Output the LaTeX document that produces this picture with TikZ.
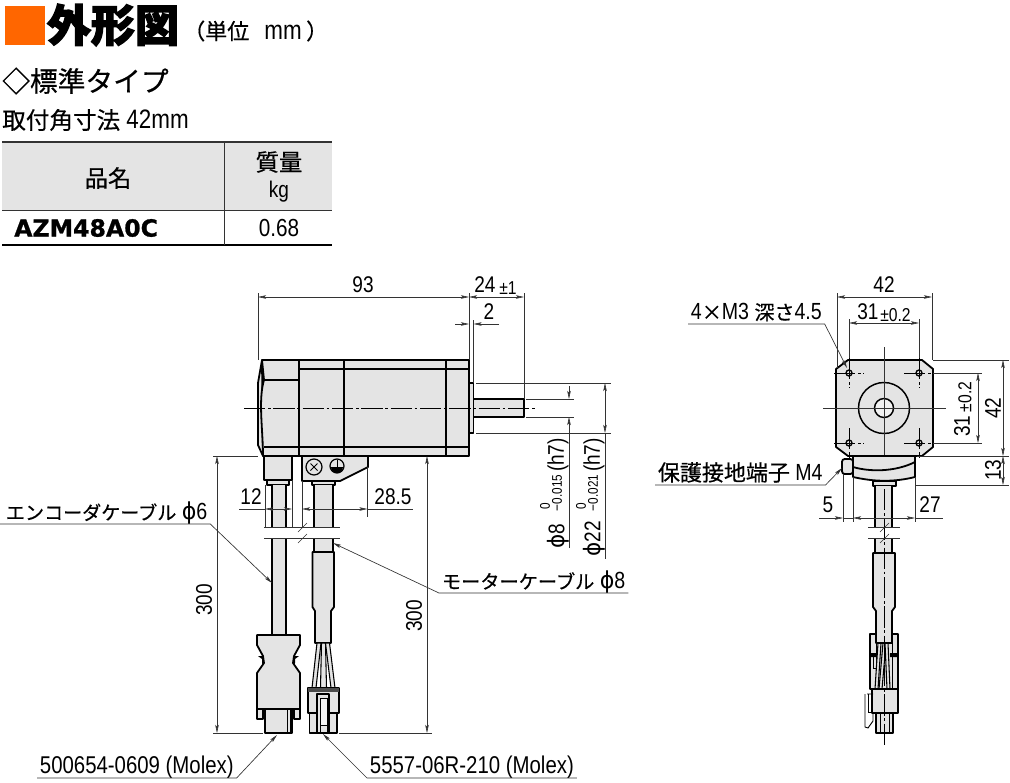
\documentclass[tikz,border=0pt]{standalone}
\usepackage{fontspec}
\usepackage{xcolor}
\usetikzlibrary{arrows.meta}
\setmainfont[FakeStretch=0.84]{Liberation Sans}
\newfontfamily\jp[FakeBold=0.5]{Noto Sans CJK JP}
\newfontfamily\jpblack[BoldFeatures={FakeBold=3}]{Noto Sans CJK JP}
\newfontfamily\phifont[FakeStretch=0.95]{DejaVu Sans}
\newfontfamily\heavy[BoldFeatures={FakeBold=1}]{DejaVu Sans}
\newcommand{\dia}{{\phifont ϕ}}
\definecolor{motorgray}{HTML}{E4E4E4}
\definecolor{titleorange}{HTML}{FF6600}
\definecolor{linegray}{HTML}{333333}
\tikzset{
  part/.style={draw=black, fill=motorgray, line width=1.35pt, line join=round},
  edge/.style={draw=black, line width=1.35pt},
  thinedge/.style={draw=black, line width=0.7pt},
  wire/.style={draw=black, fill=motorgray, line width=0.8pt},
  dim/.style={draw=linegray, line width=0.45pt, {Stealth[length=6pt,width=2.6pt,inset=1.2pt]}-{Stealth[length=6pt,width=2.6pt,inset=1.2pt]}},
  dimto/.style={draw=linegray, line width=0.45pt, -{Stealth[length=6pt,width=2.6pt,inset=1.2pt]}},
  ext/.style={draw=linegray, line width=0.45pt},
  axis/.style={draw=black, line width=0.45pt, dash pattern=on 16pt off 2pt on 2pt off 2pt},
  num/.style={font=\fontsize{17}{18}\selectfont, inner sep=0pt},
  small/.style={font=\fontsize{10.5}{12}\selectfont, inner sep=0pt},
  tol/.style={font=\fontsize{14}{15}\selectfont, inner sep=0pt},
  leadtxt/.style={font=\fontsize{17.5}{18}\selectfont, inner xsep=2pt, inner ysep=3pt, text depth=0pt},
  leadline/.style={draw=linegray, line width=0.5pt, -{Stealth[length=6pt,width=2.6pt,inset=1.2pt]}},
}
\begin{document}
\begin{tikzpicture}[x=0.75pt, y=-0.75pt]
    \useasboundingbox (0,0) rectangle (1010,782);

    % heading and table
    \fill[titleorange] (5,6) rectangle (45,45);
    \node[inner sep=0pt, font=\fontsize{33}{36}\selectfont\jpblack\bfseries] (title) at (113,25) {外形図};
    \node[inner sep=0pt, font=\fontsize{20}{22}\selectfont, anchor=west] (unit) at (183,31) {{\fontsize{16.5}{18}\jp （単位}\,\, mm\,{\fontsize{16.5}{18}\jp ）}};
    \node[inner sep=0pt, font=\fontsize{20.8}{22}\selectfont\jp, anchor=west] (kind) at (2,81) {◇標準タイプ};
    \node[inner sep=0pt, font=\fontsize{20}{20}\selectfont, anchor=west] (size) at (2,120) {{\fontsize{17.7}{20}\jp 取付角寸法} 42mm};

    \fill[motorgray] (2,142) rectangle (332,210);
    \draw[linegray, line width=1.2pt] (2,142) -- (332,142);
    \draw[linegray, line width=1pt] (2,210.5) -- (332,210.5);
    \draw[black, line width=1.2pt] (2,245) -- (332,245);
    \draw[linegray, line width=0.6pt] (224,142) -- (224,245);
    \node[inner sep=0pt, font=\fontsize{17.5}{20}\selectfont\jp] (hname) at (108,178) {品名};
    \node[inner sep=0pt, font=\fontsize{17.5}{20}\selectfont\jp] (hmass) at (279,162) {質量};
    \node[num] (hkg) at (279,192) {kg};
    \node[inner sep=0pt, font=\fontsize{17.7}{20}\selectfont\heavy\bfseries, anchor=west] (model) at (14,228) {AZM48A0C};
    \node[inner sep=0pt, font=\fontsize{18.5}{20}\selectfont] (mass) at (279,228) {0.68};

    % side view
    \draw[part] (262,360) -- (258,383) -- (258,445) -- (263,456) -- (262,360);
    \draw[part] (262,360) -- (469,360) -- (469,456) -- (263,456) .. controls (263,430) and (258,400) .. (264,380) -- cycle;
    \draw[edge] (264,380) -- (299,380);
    \draw[edge] (299,360) -- (299,456);
    \draw[edge] (344,360) -- (344,456);
    \draw[edge] (446,360) -- (446,456);
    \draw[edge] (299,369) -- (469,369);
    \draw[edge] (264,447) -- (469,447);
    \draw[part] (469,383) rectangle (473.5,433);
    \draw[part] (473.5,399) rectangle (524,417);
    \draw[axis] (244,408) -- (537,408);

    \draw[part] (264,456) rectangle (292,480);
    \draw[part] (267,480) rectangle (289,485);
    \fill[motorgray] (272,485) rectangle (286,527) (272,538) rectangle (286,635);
    \draw[edge] (272,485) -- (272,527) (286,485) -- (286,527) (272,538) -- (272,635) (286,538) -- (286,635);

    \draw[part] (302,456) -- (368,456) -- (368,467) -- (340,481) -- (302,481) -- cycle;
    \draw[thinedge, line width=0.9pt] (314,467) circle (8);
    \draw[thinedge] (310.5,463.5) -- (317.5,470.5) (317.5,463.5) -- (310.5,470.5);
    \draw[thinedge, line width=0.9pt] (337,466) circle (7);
    \draw[thinedge] (337,460) -- (337,467);
    \fill (331,467) .. controls (331,475) and (343,475) .. (343,467) -- cycle;
    \draw[part] (312,481) rectangle (335,485);
    \fill[motorgray] (314,485) rectangle (333,527) (314,538) rectangle (333,552);
    \draw[edge] (314,485) -- (314,527) (333,485) -- (333,527) (314,538) -- (314,552) (333,538) -- (333,552);
    \draw[part] (312.5,552) -- (334,552) -- (334,607) -- (331,611) -- (331,643) -- (315,643) -- (315,611) -- (312.5,607) -- cycle;

    % breaks in the cables
    \draw[ext] (264,527) -- (340,527) (264,538) -- (340,538);
    \draw[ext] (298,532) -- (307,523) (298,543) -- (307,534);

    % encoder plug
    \draw[part] (257,635) -- (300,635) -- (300,645) -- (294,656) -- (293,663) -- (300,673) -- (300,709) -- (257,709) -- (257,673) -- (264,663) -- (263,656) -- (257,645) -- cycle;
    \fill (258,656) -- (264,656) -- (263,665) -- (262,663) -- (262,659) -- cycle;
    \fill (299,656) -- (293,656) -- (294,665) -- (295,663) -- (295,659) -- cycle;
    \draw[part] (257,709) rectangle (263,719);
    \draw[part] (294,709) rectangle (300,719);
    \draw[part] (265,709) rectangle (292,733);
    \draw[thinedge] (287,709) -- (287,733) (290,709) -- (290,733);

    % motor plug
    \draw[wire] (317,643) -- (312,688) -- (316,688) -- (321,643) -- cycle;
    \draw[wire] (321.5,643) -- (320.5,688) -- (326.5,688) -- (325.5,643) -- cycle;
    \draw[wire] (325.5,643) -- (331,688) -- (335,688) -- (329.5,643) -- cycle;
    \draw[part] (308,688) rectangle (339,713);
    \fill[black!70] (308,688) rectangle (339,692);
    \draw[part] (309.5,713) rectangle (337,733);
    \draw[part] (317,694) rectangle (329,733);
    \draw[thinedge, fill=white!60!motorgray] (320,698) rectangle (327,725);
    \draw[thinedge] (320,725) rectangle (327,733);

    % side view dimensions
    \draw[ext] (258,293) -- (258,360);
    \draw[ext] (469,293) -- (469,360);
    \draw[ext] (524,293) -- (524,399);
    \draw[dim] (258,297) -- (469,297);
    \draw[dim] (469,297) -- (524,297);
    \node[num] (d93) at (363,285) {93};
    \node[num, anchor=west] (d24) at (474,285) {24};
    \node[tol, anchor=west] (d24t) at (499,288) {±1};
    \draw[ext] (473.5,320) -- (473.5,383);
    \draw[dimto] (455,324) -- (469,324);
    \draw[dimto] (499,324) -- (473.5,324);
    \node[num] (d2) at (489,312) {2};

    \draw[ext] (476,383) -- (611,383);
    \draw[ext] (476,433) -- (611,433);
    \draw[ext] (526,399) -- (574,399);
    \draw[ext] (526,417) -- (574,417);
    \draw[dimto] (569,386) -- (569,399);
    \draw[dimto] (569,548) -- (569,417);
    \draw[dim] (605,383) -- (605,433);
    \draw[ext] (605,433) -- (605,559);
    \node[num, rotate=90] (phi8) at (558,536) {\dia8};
    \node[small, rotate=90] (t8) at (557,493) {−0.015};
    \node[small, rotate=90] (t8u) at (545,506) {0};
    \node[num, rotate=90] (h8) at (558,455) {(h7)};
    \node[num, rotate=90] (phi22) at (594,539) {\dia22};
    \node[small, rotate=90] (t22) at (593,493) {−0.021};
    \node[small, rotate=90] (t22u) at (581,506) {0};
    \node[num, rotate=90] (h22) at (594,455) {(h7)};

    \draw[ext] (213,456) -- (258,456);
    \draw[ext] (213,733) -- (263,733);
    \draw[dim] (217,456) -- (217,733);
    \node[num, rotate=90] (d300a) at (204,600) {300};
    \draw[ext] (339,733) -- (432,733);
    \draw[dim] (427,456) -- (427,733);
    \node[num, rotate=90] (d300b) at (414,616) {300};

    \draw[ext] (265,485) -- (265,527);
    \draw[ext] (292,480) -- (292,527);
    \draw[ext] (239,509) -- (265,509);
    \draw[dim] (265,509) -- (292,509);
    \node[num] (d12) at (251,497) {12};
    \draw[ext] (302,481) -- (302,527);
    \draw[ext] (367.5,467) -- (367.5,517);
    \draw[dim] (302,509) -- (367.5,509);
    \draw[ext] (367.5,509) -- (413,509);
    \node[num] (d285) at (393,497) {28.5};

    % cable and connector labels
    \coordinate (encoder) at (272,583);
    \coordinate (motor) at (333,543);
    \coordinate (plugA) at (277,735);
    \coordinate (plugB) at (323,734);
    \coordinate (screw) at (847,368);
    \coordinate (ground) at (842,468);
    \node[leadtxt, anchor=south west] (encname) at (3,524) {{\fontsize{14.3}{18}\jp エンコーダケーブル} \dia6};
    \draw[leadline] (0,524) -- (encname.south east) -- (encoder);
    \node[leadtxt, anchor=south west] (motname) at (439,593) {{\fontsize{14.4}{18}\jp モーターケーブル} \dia8};
    \draw[leadline] (motname.south east) -- (motname.south west) -- (motor);
    \node[leadtxt, font=\fontsize{18.2}{18}\selectfont, anchor=south west] (plugAname) at (37,778) {500654-0609 (Molex)};
    \draw[leadline] (plugAname.south west) -- (plugAname.south east) -- (plugA);
    \node[leadtxt, font=\fontsize{18.2}{18}\selectfont, anchor=south west] (plugBname) at (367,778) {5557-06R-210 (Molex)};
    \draw[leadline] (plugBname.south east) -- (plugBname.south west) -- (plugB);

    % front view
    \draw[part] (848,360) -- (922,360) -- (933,369) -- (933,447) -- (922,456) -- (848,456) -- (836,447) -- (836,369) -- cycle;
    \draw[thinedge, line width=1.1pt] (884,408) circle (25.5);
    \draw[thinedge, line width=1.1pt, fill=white!50!motorgray] (884,408) circle (9.5);
    \foreach \hx/\hy in {849/373, 919/373, 849/443, 919/443} {
        \draw[thinedge, line width=1pt] (\hx,\hy) circle (3);
    }
    \draw[ext] (884,347) -- (884,489);
    \draw[ext] (823,408) -- (946,408);
    \draw[axis] (834,373) -- (864,373);
    \draw[axis] (904,373) -- (933,373);
    \draw[axis] (834,443) -- (864,443);
    \draw[axis] (904,443) -- (933,443);
    \draw[axis] (849,358) -- (849,388);
    \draw[axis] (919,358) -- (919,388);
    \draw[axis] (849,428) -- (849,458);
    \draw[axis] (919,428) -- (919,458);

    \draw[part, rounded corners=2pt] (842,459) rectangle (853,474);
    \draw[part] (853,456) -- (915,456) -- (915,477) .. controls (895,482) and (875,482) .. (853,477) -- cycle;
    \draw[edge] (853,467) .. controls (870,472) and (895,472) .. (915,462);
    \draw[part] (873,481) rectangle (896,486);
    \fill[motorgray] (875,486) rectangle (892,527) (875,538) rectangle (892,553);
    \draw[edge] (875,486) -- (875,527) (892,486) -- (892,527) (875,538) -- (875,553) (892,538) -- (892,553);

    \draw[part] (870,634) rectangle (898,689);
    \draw[thinedge] (876,643) -- (876,689) (892,643) -- (892,689);
    \fill (870,653) rectangle (878,657) (890,653) rectangle (898,657);
    \draw[thinedge] (873,655) rectangle (876,668);
    \draw[wire] (878,643) -- (875,689) -- (878,689) -- (881,643) -- cycle;
    \draw[wire] (883,643) -- (879,689) -- (882,689) -- (886,643) -- cycle;
    \draw[wire] (885,643) -- (887,689) -- (890,689) -- (888,643) -- cycle;
    \draw[part] (873,553) -- (895,553) -- (895,607) -- (892,611) -- (892,643) -- (876,643) -- (876,611) -- (873,607) -- cycle;
    \draw[part] (872,689) rectangle (898,713);
    \draw[thinedge] (867,694) -- (873,694) (865,694) -- (865,727) -- (868,728) -- (873,721) -- (873,712);
    \draw[thinedge] (868,694) -- (868,712) -- (873,712);
    \draw[part] (876,713) rectangle (893,733);
    \draw[thinedge] (880,713) -- (880,733) (889,713) -- (889,733);
    \draw[axis] (884,489) -- (884,747);

    \draw[ext] (868,527) -- (900,527) (868,538) -- (900,538);
    \draw[ext] (880,532) -- (889,523) (880,543) -- (889,534);

    % front view dimensions
    \draw[ext] (837,293) -- (837,368);
    \draw[ext] (932,293) -- (932,360);
    \draw[dim] (837,297) -- (932,297);
    \node[num] (w42) at (884,285) {42};
    \draw[ext] (849,319) -- (849,358);
    \draw[ext] (919,319) -- (919,358);
    \draw[dim] (849,323) -- (919,323);
    \node[num, anchor=west] (w31) at (857,312) {31};
    \node[tol, anchor=west] (w31t) at (880,315) {±0.2};
    \node[leadtxt, anchor=south west] (holes) at (688,324) {4{\fontsize{15}{18}\jp ×}M3 {\fontsize{15}{18}\jp 深さ}4.5};
    \draw[leadline] (holes.south west) -- (holes.south east) -- (screw);

    \draw[ext] (933,373) -- (982,373);
    \draw[ext] (933,443) -- (982,443);
    \draw[dim] (978,373) -- (978,443);
    \node[num, rotate=90] (h31) at (962,426) {31};
    \node[tol, rotate=90] (h31t) at (965,397) {±0.2};
    \draw[ext] (933,360) -- (1009,360);
    \draw[ext] (917,456) -- (1009,456);
    \draw[dim] (1003,360) -- (1003,456);
    \node[num, rotate=90] (h42) at (993,408) {42};
    \draw[ext] (915,485) -- (1009,485);
    \draw[dim] (1003,456) -- (1003,485);
    \node[num, rotate=90] (h13) at (993,470) {13};

    \node[leadtxt, anchor=south west] (gndname) at (655,485) {{\fontsize{16.5}{18}\jp 保護接地端子} M4};
    \draw[leadline] (gndname.south west) -- (gndname.south east) -- (ground);

    \draw[ext] (843,474) -- (843,522);
    \draw[ext] (853,477) -- (853,522);
    \draw[ext] (915,477) -- (915,522);
    \draw[dimto] (819,518) -- (843,518);
    \draw[ext] (843,518) -- (853,518);
    \draw[dim] (853,518) -- (915,518);
    \draw[ext] (915,518) -- (943,518);
    \node[num] (w5) at (828,505) {5};
    \node[num] (w27) at (930,505) {27};
\end{tikzpicture}
\end{document}
